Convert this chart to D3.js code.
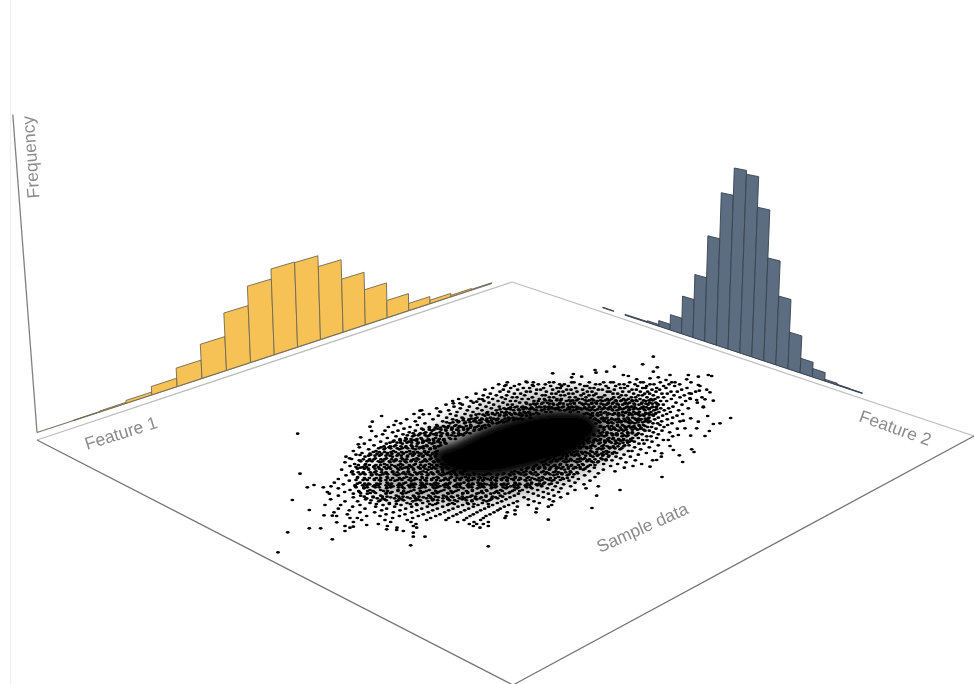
<!DOCTYPE html>
<html>
<head>
<meta charset="utf-8">
<style>
html, body { margin: 0; padding: 0; background: #fff; }
svg { display: block; }
text { font-family: "Liberation Sans", Arial, sans-serif; fill: #8b8b8b; font-size: 17.5px; }
</style>
<script src="https://d3js.org/d3.v7.min.js"></script>
</head>
<body>
<svg id="chart" width="974" height="684"></svg>
<script>
// bar heights of the two histograms
var featureOneFreq = [1, 3, 9, 27, 60, 112, 190, 255, 289, 287, 250, 183, 122, 60, 25, 12, 5, 2];
var featureTwoFreq = [2, 0, 1, 2, 6, 19, 51, 124, 206, 342, 490, 577, 565, 469, 320, 212, 112, 44, 25, 5, 2, 1];

var axisLabels = ["Frequency", "Feature 1", "Feature 2", "Sample data"];

// scatter: lone points around the cloud
var strayU = [1150,1118,1162,1033,975,978,1010,1150,910,848,935,905,1060,1075,1100,1140,1165,1200,1255,1285,1315,1325,1250,1215,1188,
  1382,1350,1330,1285,1313,1330,1305,1320,1288,1285,1258,1280,1260,1300,1240,1318,1280,1305,1262,1265,1272,1228,1238,1176,1050,966,835,
  655,422,430,465,430,380,350,400,290,250,225,187,152,118,53,24,67,118,162,187,200,90,112,132,160,83,228,245,270,335,378,307,300,305,272,265,
  450,460,510,550,570,637,620,708,768,787,1195,1210,1160,1140,1225,1175,1245,1262,1200];
var strayV = [20,43,52,50,60,68,65,65,72,70,80,82,75,78,88,85,82,75,75,80,75,78,88,97,90,
  204,220,222,215,198,152,148,127,122,105,130,150,145,172,212,243,235,258,257,298,306,316,336,381,420,474,509,
  589,586,560,560,548,540,538,543,525,530,543,568,535,535,547,607,450,480,496,497,517,371,412,405,412,251,320,327,315,198,213,215,230,243,262,283,
  182,193,185,160,160,148,155,105,95,105,270,300,330,350,255,310,235,205,288];

// scatter: the whole cloud, read row by row (one list of U per V)
var sampleRowV = [97,103,108,114,119,125,131,136,142,147,153,158,164,170,175,181,186,192,197,203,208,214,220,225,231,236,242,247,253,259,264,270,275,281,286,292,298,303,309,314,320,325,331,337,342,348,353,359,364,370,376,381,387,392,398,403,409,415,420,426,431,437,442,448,454,459,465,470,476,481,487,493,498,504,510,516,522,528,533];
var sampleRowU = [
  [712,771,790,838,851,905,912,958,1001,1022,1030,1079,1112,1120,1171,1205,1263],
  [686,748,805,826,869,883,930,977,990,1048,1062,1095,1140,1152,1197,1229],
  [704,733,790,842,875,895,944,951,1008,1037,1073,1103,1130,1181,1214,1290],
  [668,722,760,779,821,861,871,917,960,972,1015,1052,1064,1118,1127,1160,1188,1251],
  [645,700,743,800,812,848,890,903,938,985,997,1033,1086,1099,1146,1169,1235,1310],
  [690,716,769,781,829,866,879,921,952,966,1012,1020,1058,1077,1111,1133,1158,1203,1222,1277],
  [618,661,733,752,798,845,858,896,909,941,978,1029,1043,1091,1124,1139,1176,1192,1264],
  [640,679,710,764,817,826,872,884,933,957,971,1004,1054,1068,1105,1117,1150,1212,1243],
  [590,654,695,727,741,787,838,851,899,916,948,986,995,1031,1047,1084,1097,1131,1164,1181,1230,1296],
  [566,627,668,706,756,775,808,823,861,874,925,937,966,1012,1025,1061,1075,1110,1143,1155,1204,1261],
  [548,603,642,684,721,737,792,805,844,889,902,951,983,998,1039,1052,1088,1101,1127,1172,1190,1247],
  [610,657,699,749,768,819,832,870,912,929,965,977,1015,1030,1066,1079,1116,1139,1157,1218,1282],
  [528,577,630,671,713,727,781,796,851,863,893,940,956,1000,1009,1045,1058,1094,1107,1134,1165,1180,1236],
  [552,598,648,688,741,758,809,824,838,880,905,918,972,988,1022,1036,1072,1085,1120,1148,1160,1209,1300],
  [500,571,622,664,702,716,770,787,846,857,895,931,945,1003,1014,1050,1063,1098,1112,1138,1172,1196,1255],
  [455,536,592,636,679,731,748,799,815,870,884,911,960,975,1028,1041,1077,1125,1152,1183,1226],
  [512,561,609,653,695,709,762,776,828,843,901,925,992,1006,1058,1069,1091,1108,1143,1167,1201],
  [432,478,541,585,627,668,722,737,790,806,943,956,1019,1033,1081,1097,1128,1156,1190,1238],
  [505,558,603,645,688,703,755,770,968,984,1046,1060,1110,1122,1150,1178,1221],
  [448,530,576,621,661,715,729,781,961,998,1011,1073,1088,1137,1165,1208],
  [410,489,548,597,637,680,744,758,973,1026,1038,1099,1114,1154,1192],
  [436,518,566,611,653,695,709,987,1003,1055,1066,1125,1140,1175,1230],
  [392,465,540,584,628,668,681,978,1015,1029,1080,1094,1149,1163,1206],
  [372,442,500,558,602,645,656,1042,1057,1107,1120,1170,1193],
  [355,420,478,525,575,619,990,1004,1071,1086,1133,1145,1182],
  [402,455,503,546,594,634,1019,1031,1097,1112,1158,1222],
  [345,384,436,486,528,566,612,985,1046,1060,1125,1138,1176],
  [368,418,467,510,550,590,998,1011,1073,1087,1150,1199],
  [338,399,448,491,532,574,971,1028,1041,1101,1116,1165],
  [318,378,428,472,513,556,985,1003,1056,1070,1130,1143,1208],
  [352,407,453,497,538,957,1017,1030,1088,1105,1160],
  [300,390,433,478,520,944,973,990,1047,1060,1118,1131,1180],
  [332,369,416,460,503,958,1006,1019,1078,1093,1146],
  [283,349,397,442,486,528,930,941,987,1036,1048,1107,1122],
  [312,377,424,470,512,915,968,1001,1064,1077,1165],
  [268,333,357,406,452,495,932,950,1019,1031,1094,1138],
  [296,342,388,436,480,895,908,982,995,1050,1112],
  [250,318,370,419,464,502,921,962,1009,1075,1086,1154],
  [276,352,401,447,489,880,937,951,1027,1040,1129],
  [258,302,333,384,430,473,865,905,918,985,1000,1062,1105],
  [285,367,412,458,497,852,890,969,1015,1038,1081,1174],
  [239,316,349,395,441,483,838,875,931,944,993,1052],
  [268,298,378,425,467,505,860,905,952,1008,1026,1096,1148],
  [225,331,360,409,452,492,816,842,888,921,970,983,1068],
  [254,287,343,392,436,478,515,828,872,937,1001,1043,1115],
  [240,313,374,420,463,504,795,851,903,955,1022,1089],
  [271,356,404,447,490,530,775,808,866,918,973,1063],
  [215,296,335,386,431,474,517,555,755,790,838,884,940,1000],
  [247,318,368,415,459,503,546,584,735,768,820,857,901,958,1035],
  [280,349,399,443,488,532,573,612,655,702,748,783,835,875,923,985],
  [228,305,330,381,427,472,516,560,599,640,681,720,763,800,851,892,944],
  [263,351,410,456,501,544,586,627,668,708,736,776,817,866,908,975],
  [205,285,313,393,440,485,528,570,612,652,694,725,752,794,830,880,925],
  [238,332,375,424,469,512,555,596,638,679,712,768,809,846,897,960],
  [193,270,351,407,453,497,540,582,624,665,735,785,824,862,915],
  [220,299,328,388,436,481,525,567,609,650,694,750,799,838,881,942],
  [183,256,310,369,419,465,509,552,595,638,679,722,768,815,856,902,985],
  [205,282,350,402,449,494,537,580,622,664,708,741,786,832,873,948],
  [240,300,332,384,432,478,522,565,607,649,692,733,757,803,848,915],
  [172,224,268,313,366,415,461,506,550,593,635,677,720,774,820,866],
  [178,250,292,348,398,446,491,535,578,620,662,705,745,790,835,893],
  [205,272,332,379,430,476,520,563,606,648,691,733,805,852,980],
  [250,310,362,412,460,505,549,591,634,677,720,762,820,872],
  [182,287,344,396,444,490,534,577,620,664,708,775,838],
  [225,263,326,379,428,474,519,562,606,650,695,742,792,850],
  [300,358,411,458,503,547,592,637,682,730,808],
  [165,212,270,339,393,441,488,533,578,624,668,716,775,845],
  [248,317,374,425,472,518,564,610,656,703,742,835],
  [205,285,350,407,455,502,549,596,644,691,800],
  [238,335,390,440,488,536,584,632,683,735],
  [192,270,314,370,425,475,524,572,621,672,712,798],
  [232,348,405,460,510,560,610,660,735],
  [200,290,330,388,445,497,549,600,648,708],
  [240,262,368,428,482,536,590,640,705],
  [275,345,412,470,528,582,632],
  [250,362,423,563,612,655],
  [325,438,598,620,640],
  [225,352,430,610,655],
  [240,381,440,630]
];

// scatter: the crowded band round the core, same reading
var denseRowV = [151,161,172,178,189,194,206,211,217,228,233,239,250,256,267,272,278,289,295,306,311,317,328,334,345,351,356,367,373,384,390,401,406,412,423,429,440,445,451,462];
var denseRowU = [
  [826,839,860,872,897,908,920,946,958,971,992,1006,1018,1037,1055,1068,1086,1098,1121,1137,1148],
  [770,791,801,815,838,849,869,880,901,913,936,947,966,980,993,1014,1027,1041,1064,1073,1092,1115,1128,1147,1161],
  [722,735,755,766,784,801,813,833,845,865,876,896,910,924,944,958,969,989,1003,1019,1034,1048,1069,1081,1094,1116,1129,1146,1158],
  [690,709,722,746,760,780,792,823,836,856,866,892,900,920,935,952,966,983,996,1015,1026,1047,1058,1077,1090,1106,1122,1137,1160],
  [650,667,682,704,718,734,750,768,779,800,950,968,983,1002,1014,1034,1046,1066,1079,1097,1106,1127,1137,1158],
  [618,639,655,675,690,709,725,747,758,781,962,981,993,1012,1028,1044,1056,1077,1087,1106,1119,1138,1148],
  [580,604,615,635,651,671,684,705,719,738,752,975,994,1006,1025,1045,1062,1075,1095,1106,1126,1135],
  [560,580,596,615,629,649,664,680,697,715,731,982,1001,1016,1035,1048,1066,1079,1100,1110,1130],
  [530,549,565,586,600,620,634,655,666,688,701,990,1012,1024,1043,1053,1075,1086,1104,1118,1135],
  [502,520,536,554,569,589,603,625,637,658,992,1013,1025,1043,1062,1077,1092,1108,1125],
  [478,496,512,533,546,565,581,601,614,635,646,1000,1018,1032,1051,1066,1082,1094,1113],
  [460,478,492,513,527,545,560,581,593,613,628,1002,1023,1037,1055,1069,1087,1103,1121],
  [430,451,463,483,499,517,532,551,566,585,600,990,1011,1024,1040,1056,1074,1087,1105],
  [412,433,445,466,478,499,513,533,545,566,580,972,995,1009,1028,1041,1062,1074,1097],
  [390,409,423,441,455,475,490,508,522,542,556,955,976,992,1013,1028,1046,1061,1082],
  [372,391,405,424,440,459,470,491,505,523,950,971,982,1004,1016,1036,1052,1071,1085],
  [360,381,392,411,425,445,458,478,492,511,525,938,955,969,991,1005,1024,1040,1059,1073],
  [342,361,373,393,408,426,440,460,471,493,505,905,927,941,962,975,996,1012,1030,1044,1061],
  [326,345,362,382,396,413,428,448,460,481,495,895,915,930,951,962,987,1000,1019,1035,1055],
  [310,328,344,363,377,395,410,430,442,463,475,496,878,899,912,934,946,967,980,1001,1016,1033],
  [300,321,335,353,366,386,400,421,434,453,468,488,500,868,889,905,923,938,958,975,995,1010,1028],
  [296,315,328,348,360,381,394,413,428,447,460,481,496,858,878,892,913,927,947,962,982,998,1017],
  [280,299,312,333,344,365,378,399,410,431,445,465,480,501,832,853,868,888,902,923,938,958,975,997,1008],
  [272,291,306,325,338,358,372,391,405,423,438,459,470,491,505,825,845,860,881,895,915,930,951,964,985],
  [265,285,298,318,332,351,365,385,398,418,432,452,466,485,500,521,535,800,821,835,855,870,891,905,925,940,961,975],
  [258,279,290,311,325,343,358,378,392,411,425,445,460,478,492,513,528,790,809,824,843,860,879,895,915,930,951],
  [262,283,295,315,328,349,362,383,396,415,430,451,465,485,498,518,534,555,770,789,805,825,840,859,874,895,910,931,945],
  [245,265,280,301,314,335,348,368,382,401,415,435,450,469,484,503,518,538,552,573,725,745,760,781,796,815,830,851,866,887,902,921],
  [250,271,285,305,320,339,353,373,388,407,420,441,455,475,490,509,524,543,558,578,592,613,628,648,662,683,698,718,732,753,768,789,804,825,840,861,876,897,912],
  [262,283,298,319,332,353,368,388,402,421,436,457,470,491,505,525,540,561,574,595,610,631,644,665,680,700,714,735,750,771,786,807,820,841,856,877,892],
  [258,279,292,313,328,348,362,383,396,417,432,451,465,485,500,521,535,555,570,591,605,625,640,661,675,695,710,731,746,765,780,801,816,837,852,871],
  [262,284,296,320,330,354,365,388,400,424,434,458,470,492,504,528,538,562,572,596,608,632,642,666,678,702,714,736,748,772,784,808,820,844],
  [255,278,290,314,324,348,360,384,394,416,428,452,462,486,498,520,532,556,568,592,602,626,638,661,672,696,708,731,742,766,778,802,814],
  [258,282,292,316,328,351,362,386,398,420,432,456,466,490,502,526,536,560,572,596,606,630,642,666,676,700,712,734,746,770,782],
  [266,293,309,341,353,384,401,423,451,469,497,513,543,558,589,607,635,651,681,697,727,749],
  [272,301,317,349,361,394,408,441,455,487,501,533,546,579,593,626,639,672,686,717],
  [283,309,337,351,386,399,433,447,481,496,529,544,577,601,617,648,667,698],
  [290,322,338,374,389,421,437,470,484,519,533,568,583,616,631,665,683],
  [303,331,349,385,401,437,451,488,503,539,554,589,606,641,658],
  [319,358,379,421,439,479,497,537,553,595,612,655]
];

// where the cloud overplots to solid black, and the crowded band around it
var coreU = [490,560,640,720,800,880,960,995,950,885,800,720,640,560,500];
var coreV = [305,275,235,205,185,180,190,240,290,330,355,375,385,380,350];
var bandU = [340,420,520,640,780,940,1080,1140,1090,1020,930,820,680,520,380,300];
var bandV = [340,280,225,170,130,120,140,190,260,320,375,420,450,465,445,400];

var chart = d3.select("#chart");

var defs = chart.append("defs");

function blurFilter(id, amount) {
    defs.append("filter")
        .attr("id", id)
        .attr("filterUnits", "userSpaceOnUse")
        .attr("x", 0).attr("y", 0)
        .attr("width", 974).attr("height", 684)
        .append("feGaussianBlur")
        .attr("stdDeviation", amount);
}
blurFilter("soft", 0.45);
blurFilter("fadeCore", 5);
blurFilter("fadeBand", 9);

// the source is a slightly soft screenshot
var svg = chart.append("g").attr("filter", "url(#soft)");

svg.append("rect").attr("width", 974).attr("height", 684).attr("fill", "#fff");

// floor plane corners
var floorLeft = [37, 440], floorTop = [512, 282], floorRight = [974, 436], floorBottom = [513, 685];

// foreshortening along a wall: t 0..1 -> 0..1
function foreshorten(c) {
    return t => t * (1 + c) / (1 + c * t);
}

var freqPx = d3.scaleLinear().domain([0, 1000]).range([0, 318]);

// verticals spread apart going up
function lift(p, h) {
    return [p[0] + (p[0] - 513) * 0.00016 * h, p[1] - h];
}

function histogram(values, opt) {
    var bin = d3.scaleLinear().domain([0, values.length]).range([0, 1]),
        squeeze = foreshorten(opt.c),
        x = d3.scaleLinear().domain([0, 1]).range(opt.x),
        y = d3.scaleLinear().domain(opt.x).range(opt.y),
        shrink = d3.scaleLinear().domain([0, 1]).range(opt.shrink),
        line = d3.line();

    function base(i) {
        var t = squeeze(bin(i));
        return {t: t, p: [x(t), y(x(t))]};
    }

    svg.append("g")
        .attr("class", opt.name)
        .selectAll("path")
        .data(values.map((v, i) => ({v: v, i: i})).filter(d => d.v > 0))
        .enter().append("path")
        .attr("d", d => {
            var a = base(d.i), b = base(d.i + 1);
            return line([
                a.p,
                lift(a.p, freqPx(d.v) * shrink(a.t)),
                lift(b.p, freqPx(d.v) * shrink(b.t)),
                b.p
            ]) + "Z";
        })
        .attr("fill", opt.fill)
        .attr("stroke", opt.stroke)
        .attr("stroke-width", 0.9);
}

// faint edge of the source image
svg.append("line")
    .attr("x1", 10.5).attr("x2", 10.5).attr("y1", 0).attr("y2", 684)
    .attr("stroke", "#efefef");

// floor
function edge(a, b, color) {
    svg.append("line")
        .attr("x1", a[0]).attr("y1", a[1]).attr("x2", b[0]).attr("y2", b[1])
        .attr("stroke", color)
        .attr("stroke-width", 1.3);
}
edge(floorLeft, floorTop, "#bdbdbd");
edge(floorTop, floorRight, "#bdbdbd");
edge(floorLeft, floorBottom, "#737373");
edge(floorRight, floorBottom, "#737373");

// frequency axis and the foot of the first wall
var freqFoot = [37, 432.5];
edge(freqFoot, lift(freqFoot, freqPx(1000)), "#808080");
edge(freqFoot, [491.7, 283.3], "#80796a");
edge([625, 314.3], [862.3, 393.3], "#626874");

histogram(featureOneFreq, {
    name: "feature-one", c: 0.155, x: [73.3, 491.7], y: [420.6, 283.3], shrink: [1, 0.86],
    fill: "#f6c155", stroke: "#6f6a58"
});
histogram(featureTwoFreq, {
    name: "feature-two", c: -0.066, x: [602.7, 862.3], y: [307.8, 393.3], shrink: [0.9, 1.08],
    fill: "#5b6c81", stroke: "#39424f"
});

// sample cloud
var sampleX = d3.scaleLinear().domain([0, 1410]).range([270, 740]),
    sampleY = d3.scaleLinear().domain([0, 630]).range([350, 560]);

var cloud = svg.append("g").attr("class", "cloud");

function densityPatch(us, vs, filterId, opacity) {
    cloud.append("path")
        .datum(us.map((u, i) => [sampleX(u), sampleY(vs[i])]))
        .attr("d", d3.line().curve(d3.curveCatmullRomClosed))
        .attr("fill", "#000")
        .attr("fill-opacity", opacity)
        .attr("filter", `url(#${filterId})`);
}
densityPatch(bandU, bandV, "fadeBand", 0.3);
densityPatch(coreU, coreV, "fadeCore", 1);

var samples = strayU.map((u, i) => ({u: u, v: strayV[i]}));
sampleRowU.forEach((row, i) => row.forEach(u => samples.push({u: u, v: sampleRowV[i]})));
denseRowU.forEach((row, i) => row.forEach(u => samples.push({u: u, v: denseRowV[i]})));

cloud.selectAll("ellipse")
    .data(samples)
    .enter().append("ellipse")
    .attr("cx", d => sampleX(d.u))
    .attr("cy", d => sampleY(d.v))
    .attr("rx", 1.9)
    .attr("ry", 1.3)
    .attr("fill", "#000");

// labels lying in the floor
var labelSpots = [
    {x: 39.5, y: 198, r: -94},
    {x: 87, y: 450, r: -17.5},
    {x: 858, y: 421, r: 19.5},
    {x: 600, y: 553, r: -24}
];

svg.selectAll("text.label")
    .data(axisLabels)
    .enter().append("text")
    .attr("class", "label")
    .attr("transform", (d, i) => `translate(${labelSpots[i].x},${labelSpots[i].y}) rotate(${labelSpots[i].r})`)
    .text(d => d);
</script>
</body>
</html>
